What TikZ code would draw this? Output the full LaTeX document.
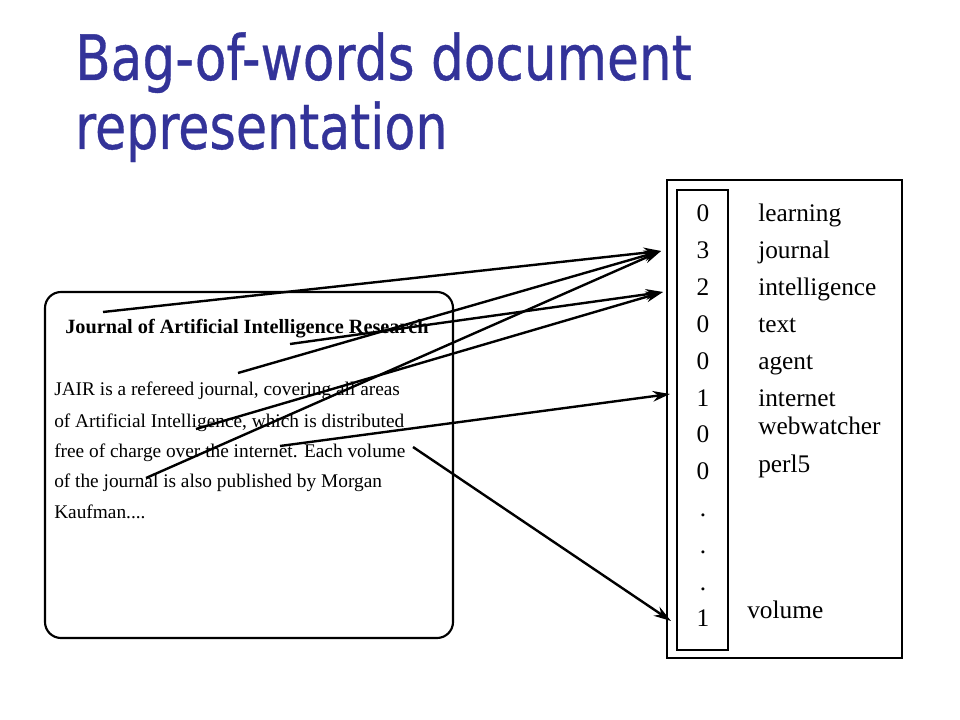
\documentclass[tikz,border=0pt]{standalone}
\usepackage{fontspec}
\setmainfont{Liberation Serif}
\newfontfamily\titlefont[FakeBold=0.6]{DejaVu Sans}
\usetikzlibrary{arrows.meta}
\definecolor{titleblue}{RGB}{51,51,153}
\begin{document}
\begin{tikzpicture}[x=0.75pt,y=-0.75pt,
  slidetitle/.style={anchor=base west, inner sep=0, text=titleblue, font=\titlefont\fontsize{47}{52}\selectfont},
  boxline/.style={line width=1.6pt},
  doctitle/.style={anchor=base west, inner sep=0, font=\bfseries\fontsize{15.2}{18}\selectfont},
  bodytext/.style={anchor=base west, inner sep=0, font=\fontsize{14.5}{17}\selectfont},
  vecnum/.style={anchor=base, inner sep=0, font=\fontsize{19}{22}\selectfont},
  vecword/.style={anchor=base west, inner sep=0, font=\fontsize{19}{22}\selectfont},
  conn/.style={line width=1.8pt, -{Stealth[length=13pt,width=8pt]}}]
\useasboundingbox (0,0) rectangle (960,720);
\fill[white] (0,0) rectangle (960,720);

% slide title
\node[slidetitle] (t1) at (75,80) {\scalebox{0.825}[1]{Bag-of-words document}};
\node[slidetitle] (t2) at (75,149) {\scalebox{0.81}[1]{representation}};

% document box
\draw[boxline, rounded corners=12pt] (45,292) rectangle (453,638);
\node[doctitle] (dt) at (65,333) {Journal of Artificial Intelligence Research};
\node[bodytext] (l1) at (54,395) {JAIR is a refereed journal, covering all areas};
\node[bodytext] (l2) at (54,427) {of Artificial Intelligence, which is distributed};
\node[bodytext] (l3) at (54,457) {free of charge over the internet. Each volume};
\node[bodytext] (l4) at (54,487) {of the journal is also published by Morgan};
\node[bodytext] (l5) at (54,518) {Kaufman....};

% vector box
\draw[boxline] (667,180) rectangle (902,658);
\draw[boxline] (677,190) rectangle (728,650);
\node[vecnum] (n1) at (703,222) {0};
\node[vecnum] (n2) at (703,259) {3};
\node[vecnum] (n3) at (703,296) {2};
\node[vecnum] (n4) at (703,332) {0};
\node[vecnum] (n5) at (703,369) {0};
\node[vecnum] (n6) at (703,406) {1};
\node[vecnum] (n7) at (703,442) {0};
\node[vecnum] (n8) at (703,479) {0};
\node[vecnum] (d1) at (703,516) {.};
\node[vecnum] (d2) at (703,553) {.};
\node[vecnum] (d3) at (703,590) {.};
\node[vecnum] (n9) at (703,626) {1};

\node[vecword] (w1) at (758,222) {learning};
\node[vecword] (w2) at (758,259) {journal};
\node[vecword] (w3) at (758,296) {intelligence};
\node[vecword] (w4) at (758,332) {text};
\node[vecword] (w5) at (758,369) {agent};
\node[vecword] (w6) at (758,406) {internet};
\node[vecword] (w7) at (758,434) {webwatcher};
\node[vecword] (w8) at (758,472) {perl5};
\node[vecword] (w9) at (747,618) {volume};

% arrow endpoints
\coordinate (sA) at (103,312);
\coordinate (sB) at (290,344);
\coordinate (sC) at (238,373);
\coordinate (sD) at (196,429);
\coordinate (sE) at (146,478);
\coordinate (sF) at (280,446);
\coordinate (sG) at (413,447);
\coordinate (eJournal) at (661,251);
\coordinate (eIntel) at (663,292);
\coordinate (eInternet) at (670,394);
\coordinate (eVolume) at (671,621);

\draw[conn] (sA) -- (eJournal);
\draw[conn] (sC) -- (eJournal);
\draw[conn] (sE) -- (eJournal);
\draw[conn] (sB) -- (eIntel);
\draw[conn] (sD) -- (eIntel);
\draw[conn] (sF) -- (eInternet);
\draw[conn] (sG) -- (eVolume);
\end{tikzpicture}
\end{document}
